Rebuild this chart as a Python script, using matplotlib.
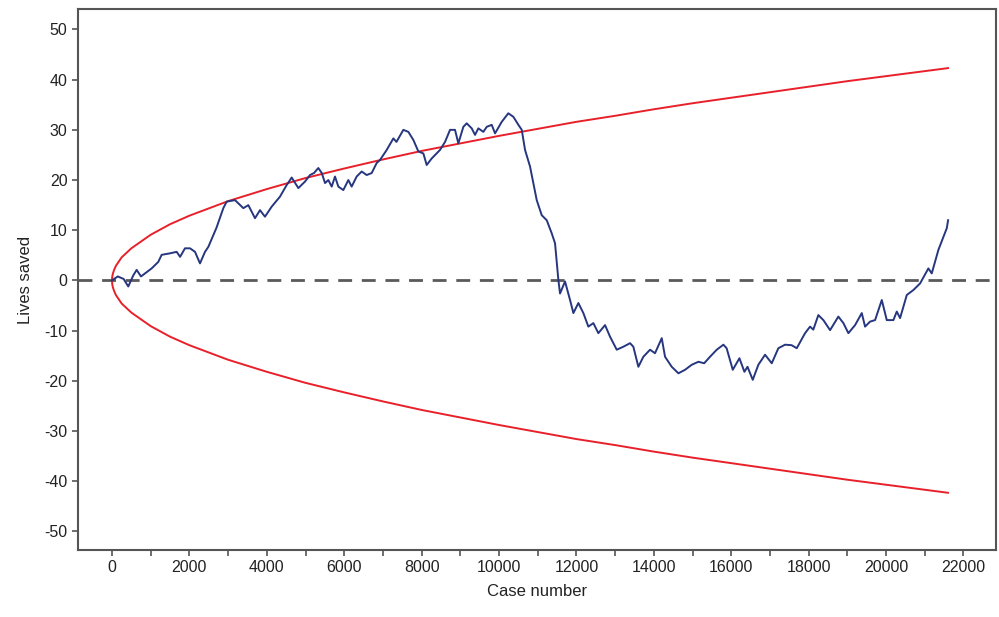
import matplotlib
matplotlib.use("Agg")
import matplotlib.pyplot as plt
import numpy as np
from matplotlib.ticker import MultipleLocator

plt.rcParams['font.family'] = ['Liberation Sans', 'DejaVu Sans']
plt.rcParams['axes.unicode_minus'] = False

case_no = [0, 150, 300, 421, 550, 637, 750, 853, 1025, 1197, 1283, 1499, 1671, 1760,
           1886, 2016, 2145, 2274, 2403, 2490, 2700, 2877, 2963, 3178, 3394, 3523,
           3695, 3824, 3953, 4126, 4341, 4513, 4643, 4815, 4987, 5116, 5220, 5331,
           5420, 5504, 5590, 5677, 5762, 5848, 5977, 6106, 6193, 6322, 6451, 6581,
           6710, 6839, 6925, 7098, 7270, 7350, 7528, 7657, 7786, 7915, 8045, 8131,
           8260, 8475, 8605, 8734, 8863, 8949, 9078, 9165, 9294, 9380, 9466, 9595,
           9682, 9811, 9897, 10070, 10240, 10370, 10500, 10587, 10672, 10801, 10886,
           10974, 11103, 11232, 11361, 11447, 11533, 11576, 11705, 11835, 11921,
           12050, 12179, 12308, 12437, 12566, 12739, 12868, 13041, 13213, 13385,
           13470, 13600, 13729, 13902, 14030, 14204, 14289, 14462, 14634, 14806,
           14979, 15151, 15300, 15452, 15625, 15797, 15880, 16039, 16211, 16340,
           16420, 16555, 16700, 16873, 17046, 17217, 17390, 17560, 17692, 17907,
           18036, 18120, 18250, 18380, 18553, 18767, 18897, 19026, 19199, 19372,
           19457, 19587, 19716, 19889, 20018, 20189, 20276, 20362, 20535, 20706,
           20878, 21093, 21180, 21352, 21568, 21602]
lives = [0, 0.8, 0.3, -1.2, 1.0, 2.1, 0.8, 1.4, 2.4, 3.7, 5.1, 5.4, 5.7, 4.7,
         6.4, 6.4, 5.7, 3.4, 5.7, 6.7, 10.5, 14.4, 15.7, 16.0, 14.4, 15.0,
         12.4, 14.0, 12.7, 14.7, 16.7, 19.0, 20.5, 18.4, 19.7, 21.0, 21.4, 22.4,
         21.4, 19.4, 20.0, 18.7, 20.7, 18.7, 18.0, 20.0, 18.7, 20.7, 21.7, 21.0,
         21.4, 23.4, 24.0, 26.0, 28.3, 27.6, 30.0, 29.6, 28.0, 25.7, 25.3, 23.0,
         24.3, 26.0, 27.6, 30.0, 30.0, 27.3, 30.6, 31.3, 30.3, 29.0, 30.3, 29.6,
         30.6, 31.0, 29.3, 31.6, 33.3, 32.6, 31.0, 30.0, 26.0, 22.7, 19.4,
         16.0, 13.0, 12.0, 9.4, 7.4, 0.1, -2.6, -0.2, -3.9, -6.5,
         -4.5, -6.5, -9.2, -8.5, -10.5, -8.9, -11.2, -13.8, -13.2, -12.5,
         -13.2, -17.2, -15.2, -13.8, -14.5, -11.5, -15.2, -17.2, -18.5, -17.8,
         -16.8, -16.2, -16.5, -15.2, -13.8, -12.8, -13.5, -17.8, -15.5, -18.2,
         -17.2, -19.8, -16.8, -14.8, -16.5, -13.5, -12.8, -12.9, -13.5, -10.5,
         -9.2, -9.8, -6.9, -7.9, -9.9, -7.2, -8.5, -10.5, -8.9, -6.5,
         -9.2, -8.2, -7.9, -3.9, -7.9, -7.9, -6.2, -7.5, -2.9, -1.9,
         -0.6, 2.4, 1.4, 6.1, 10.4, 12.0]

# control limits (upper limit; lower limit is its mirror)
limit_case = [0, 5, 10, 25, 50, 100, 250, 500, 1000, 1500, 2000, 3000, 4000, 5000,
              6000, 7000, 8000, 9000, 10000, 11000, 12000, 13000, 14000, 15000,
              16000, 17000, 18000, 19000, 20000, 21000, 21600]
limit_upper = [0, 0.6, 0.9, 1.4, 2.0, 2.9, 4.6, 6.4, 9.1, 11.2, 12.9, 15.8, 18.2, 20.4,
               22.3, 24.1, 25.8, 27.3, 28.8, 30.2, 31.6, 32.8, 34.1, 35.3,
               36.4, 37.5, 38.6, 39.7, 40.7, 41.7, 42.3]
limit_lower = [-v for v in limit_upper]

fig = plt.figure(figsize=(9.99, 6.17), dpi=100)
ax = fig.add_axes([0.078, 0.1086, 0.919, 0.877])

ax.axhline(0, color='#5a5a5a', lw=2.0, dashes=(5, 3.5), zorder=1)
ax.plot(limit_case, limit_upper, color='#e8202a', lw=1.4, zorder=2)
ax.plot(limit_case, limit_lower, color='#e8202a', lw=1.4, zorder=2)
ax.plot(case_no, lives, color='#26367f', lw=1.4, zorder=3)

ax.set_xlim(-880, 22840)
ax.set_ylim(-53.7, 54.1)
ax.xaxis.set_major_locator(MultipleLocator(2000))
ax.xaxis.set_minor_locator(MultipleLocator(1000))
ax.yaxis.set_major_locator(MultipleLocator(10))

for s in ax.spines.values():
    s.set_color('#555555')
    s.set_linewidth(1.5)
ax.tick_params(which='both', direction='out', length=4, width=1.2, color='#555555',
               labelsize=11.5, labelcolor='#222222')

ax.set_xlabel('Case number', fontsize=12, color='#222222', labelpad=6)
ax.set_ylabel('Lives saved', fontsize=12, color='#222222', labelpad=8)

fig.savefig('out.png', dpi=100)
